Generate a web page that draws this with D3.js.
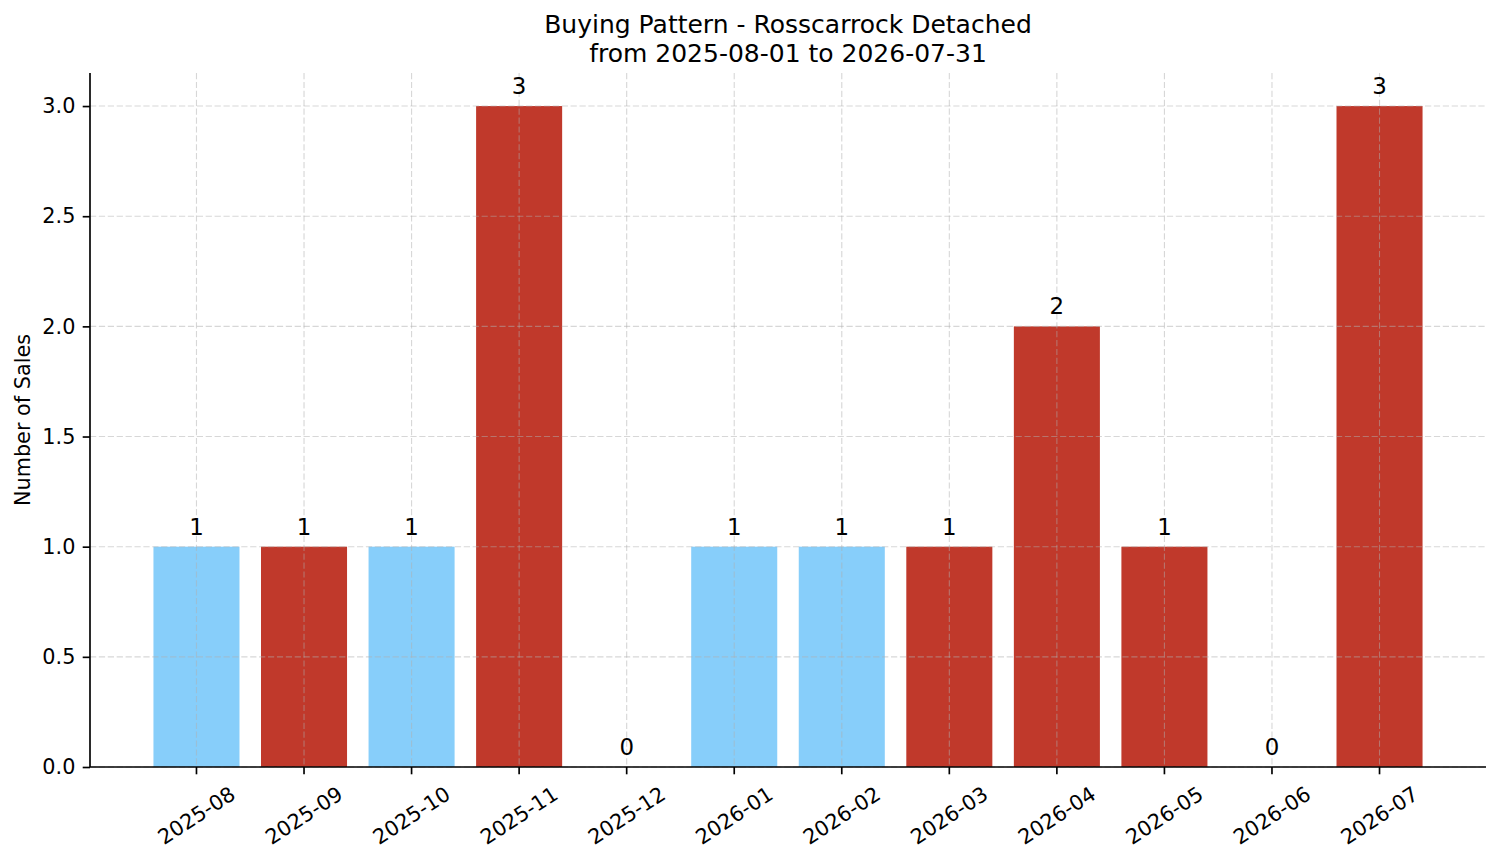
<!DOCTYPE html>
<html>
<head>
<meta charset="utf-8">
<script src="https://cdn.jsdelivr.net/npm/d3@7"></script>
<style>
  body { margin: 0; background: #fff; }
  svg { display: block; font-family: "DejaVu Sans", sans-serif; }
</style>
</head>
<body>
<svg id="chart" width="1501" height="863"></svg>
<script>
// monthly sales counts
const months = ["2025-08", "2025-09", "2025-10", "2025-11", "2025-12", "2026-01",
                "2026-02", "2026-03", "2026-04", "2026-05", "2026-06", "2026-07"];
const sales = [1, 1, 1, 3, 0, 1, 1, 1, 2, 1, 0, 3];
const barColors = ["#87CEFA", "#C0392B", "#87CEFA", "#C0392B", "#C0392B", "#87CEFA",
                   "#87CEFA", "#C0392B", "#C0392B", "#C0392B", "#C0392B", "#C0392B"];
const yTicks = [0, 0.5, 1.0, 1.5, 2.0, 2.5, 3.0];
const titleLines = ["Buying Pattern - Rosscarrock Detached", "from 2025-08-01 to 2026-07-31"];

const svg = d3.select("#chart");
const plot = { left: 90, right: 1486, top: 73, bottom: 767 };

const x = d3.scaleBand()
  .domain(months)
  .range([plot.left, plot.right])
  .paddingInner(0.2)
  .paddingOuter(0.59);

const y = d3.scaleLinear()
  .domain([0, 3.15])
  .range([plot.bottom, plot.top]);

// bars
svg.append("g")
  .selectAll("rect")
  .data(months)
  .enter().append("rect")
  .attr("x", d => x(d))
  .attr("y", (d, i) => y(sales[i]))
  .attr("width", x.bandwidth())
  .attr("height", (d, i) => plot.bottom - y(sales[i]))
  .attr("fill", (d, i) => barColors[i]);

// grid (drawn over the bars, faint)
const grid = svg.append("g")
  .attr("stroke", "#b0b0b0")
  .attr("stroke-opacity", 0.5)
  .attr("stroke-width", 1.1)
  .attr("stroke-dasharray", "6.2,2.7");

grid.selectAll(".vgrid")
  .data(months)
  .enter().append("line")
  .attr("x1", d => x(d) + x.bandwidth() / 2)
  .attr("x2", d => x(d) + x.bandwidth() / 2)
  .attr("y1", plot.top)
  .attr("y2", plot.bottom);

grid.selectAll(".hgrid")
  .data(yTicks)
  .enter().append("line")
  .attr("x1", plot.left)
  .attr("x2", plot.right)
  .attr("y1", d => y(d))
  .attr("y2", d => y(d));

// value labels
svg.append("g")
  .selectAll("text")
  .data(months)
  .enter().append("text")
  .attr("x", d => x(d) + x.bandwidth() / 2)
  .attr("y", (d, i) => y(sales[i]) - 12)
  .attr("text-anchor", "middle")
  .style("font-size", "22.9px")
  .style("fill", "#000")
  .text((d, i) => sales[i]);

// y axis
const yAxis = svg.append("g")
  .attr("transform", `translate(${plot.left},0)`)
  .call(d3.axisLeft(y).tickValues(yTicks).tickFormat(d3.format(".1f")).tickSize(7.3).tickPadding(7.3));
yAxis.select(".domain").remove();
yAxis.selectAll(".tick line").attr("stroke", "#000").attr("stroke-width", 1.67);
yAxis.selectAll("text")
  .attr("font-family", "DejaVu Sans")
  .style("font-size", "20.8px")
  .style("fill", "#000");

// x axis ticks
const xAxis = svg.append("g")
  .attr("transform", `translate(0,${plot.bottom})`)
  .call(d3.axisBottom(x).tickSize(7.3).tickSizeOuter(0));
xAxis.select(".domain").remove();
xAxis.selectAll(".tick line").attr("stroke", "#000").attr("stroke-width", 1.67);

// rotated tick labels, bbox centred under each tick
const rot = 33;
const angle = rot * Math.PI / 180;
const fs = 20.8;
xAxis.selectAll(".tick text").each(function () {
  const t = d3.select(this);
  t.attr("font-family", "DejaVu Sans").style("font-size", fs + "px").style("fill", "#000")
   .attr("y", 0).attr("dy", null).attr("text-anchor", "middle");
  const w = this.getComputedTextLength();
  const h = fs * 1.164;
  const H = w * Math.sin(angle) + h * Math.cos(angle);
  const cy = 7.3 + 7.3 + H / 2;
  t.attr("transform", `translate(0,${cy}) rotate(${-rot})`)
   .attr("y", fs * 0.346);
});

// spines
svg.append("line")
  .attr("x1", plot.left).attr("x2", plot.left).attr("y1", plot.top).attr("y2", plot.bottom)
  .attr("stroke", "#000").attr("stroke-width", 1.67);
svg.append("line")
  .attr("x1", plot.left).attr("x2", plot.right).attr("y1", plot.bottom).attr("y2", plot.bottom)
  .attr("stroke", "#000").attr("stroke-width", 1.67);

// y label
svg.append("text")
  .attr("transform", `translate(30,${(plot.top + plot.bottom) / 2}) rotate(-90)`)
  .attr("text-anchor", "middle")
  .style("font-size", "20.8px")
  .style("fill", "#000")
  .text("Number of Sales");

// title
svg.append("g")
  .selectAll("text")
  .data(titleLines)
  .enter().append("text")
  .attr("x", (plot.left + plot.right) / 2)
  .attr("y", (d, i) => 33 + i * 29)
  .attr("text-anchor", "middle")
  .style("font-size", "25px")
  .style("fill", "#000")
  .text(d => d);
</script>
</body>
</html>
